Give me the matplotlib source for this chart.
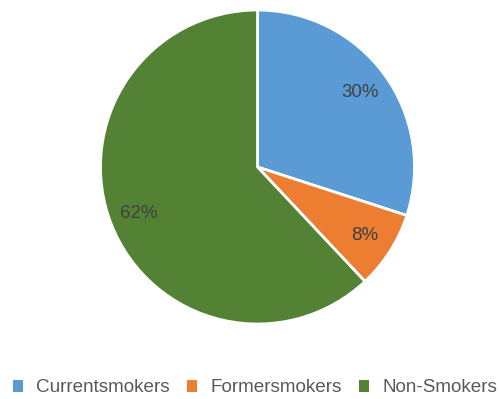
import matplotlib
matplotlib.use("Agg")
import matplotlib.pyplot as plt
from matplotlib.patches import Patch

categories = ["Currentsmokers", "Formersmokers", "Non-Smokers"]
shares = [30, 8, 62]
colors = ["#5B9BD5", "#ED7D31", "#548235"]

plt.rcParams["font.family"] = ["Liberation Sans", "DejaVu Sans"]

fig = plt.figure(figsize=(5.0, 3.99), dpi=100)
ax = fig.add_axes([0, 0, 1, 1])

wedges, texts, autotexts = ax.pie(
    shares, colors=colors, startangle=90, counterclock=False,
    center=(257.5, 232), radius=157, pctdistance=0.81,
    autopct=lambda p: f"{p:.0f}%",
    wedgeprops=dict(edgecolor="white", linewidth=2),
    textprops=dict(fontsize=13.5, color="#404040"),
    frame=True,
)
ax.set_xlim(0, 500)
ax.set_ylim(0, 399)
ax.set_aspect("equal")
ax.axis("off")

handles = [Patch(facecolor=c, edgecolor="none") for c in colors]
fig.legend(handles, categories, loc="center", bbox_to_anchor=(0.51, 0.028),
           ncol=3, frameon=False, fontsize=13.6, labelcolor="#595959",
           handlelength=0.5, handleheight=0.6, handletextpad=0.7,
           columnspacing=0.95, borderpad=0, borderaxespad=0)

fig.savefig("out.png", dpi=100, facecolor="white")
